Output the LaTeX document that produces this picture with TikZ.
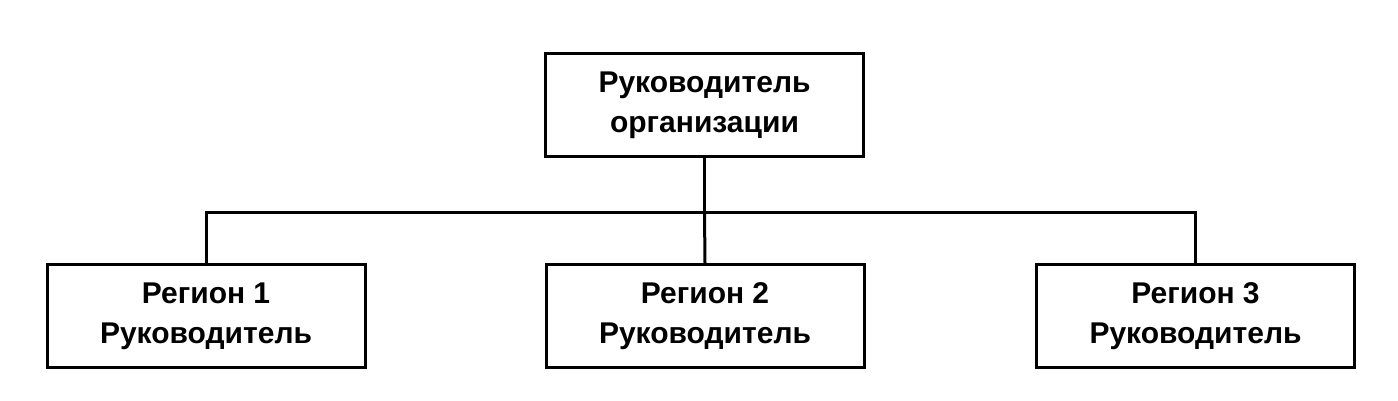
\documentclass[tikz,border=0pt]{standalone}
\usepackage{fontspec}
\setmainfont{Liberation Sans}
\begin{document}
\begin{tikzpicture}[x=1pt,y=1pt,
  box/.style={draw,line width=3pt,minimum width=318pt,minimum height=103pt,
    align=center,inner sep=0pt,font=\bfseries\fontsize{30}{40}\selectfont},
  conn/.style={line width=3pt}]
\useasboundingbox (0,0) rectangle (1398,401);
\node[box] (top) at (704.5,296) {Руководитель\\организации};
\node[box] (r1) at (206,84.5) {Регион 1\\Руководитель};
\node[box] (r2) at (705,84.5) {Регион 2\\Руководитель};
\node[box] (r3) at (1195.5,84.5) {Регион 3\\Руководитель};
\coordinate (j) at (704.5,188);
\draw[conn] (top.south) -- (j);
\draw[conn] (r1.north) |- (j) -| (r3.north);
\draw[conn] (j) -- (r2.north);
\end{tikzpicture}
\end{document}
